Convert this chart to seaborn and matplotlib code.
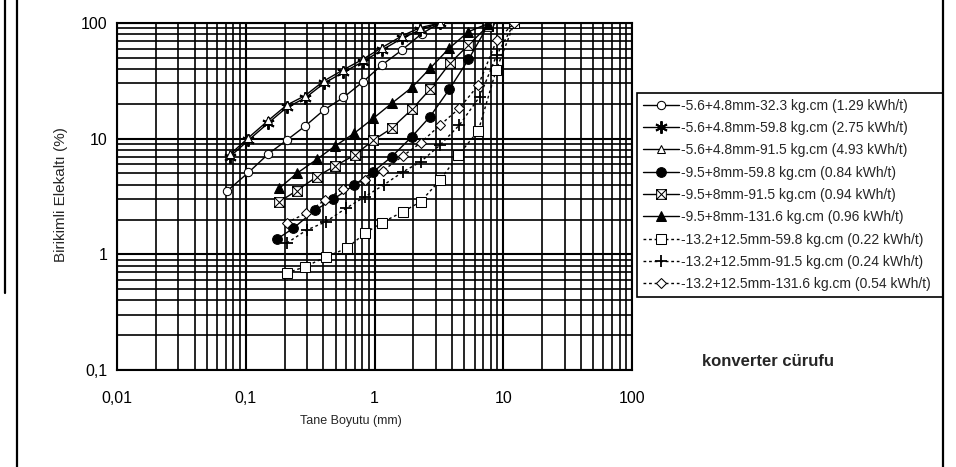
import numpy as np
import pandas as pd
import matplotlib
matplotlib.use("Agg")
import matplotlib.pyplot as plt
import seaborn as sns
from matplotlib.path import Path
from matplotlib.lines import Line2D
from matplotlib import font_manager

# ---------------- data ----------------
labels = [
    "-5.6+4.8mm-32.3 kg.cm (1.29 kWh/t)",
    "-5.6+4.8mm-59.8 kg.cm (2.75 kWh/t)",
    "-5.6+4.8mm-91.5 kg.cm (4.93 kWh/t)",
    "-9.5+8mm-59.8 kg.cm (0.84 kWh/t)",
    "-9.5+8mm-91.5 kg.cm (0.94 kWh/t)",
    "-9.5+8mm-131.6 kg.cm (0.96 kWh/t)",
    "-13.2+12.5mm-59.8 kg.cm (0.22 kWh/t)",
    "-13.2+12.5mm-91.5 kg.cm (0.24 kWh/t)",
    "-13.2+12.5mm-131.6 kg.cm (0.54 kWh/t)",
]

x1 = [0.071, 0.105, 0.15, 0.208, 0.288, 0.405, 0.573, 0.81, 1.14, 1.63, 2.33, 3.23]
y1 = [3.5, 5.1, 7.4, 9.7, 12.8, 17.7, 22.7, 30.9, 43.3, 58.3, 81, 100]

x2 = [0.0755, 0.105, 0.15, 0.208, 0.288, 0.405, 0.573, 0.81, 1.14, 1.63, 2.25, 3.23]
y2 = [7.0, 9.7, 13.7, 18.6, 22.4, 30.1, 37.5, 46.2, 58.3, 73.5, 87, 100]

x3 = [0.0755, 0.105, 0.15, 0.208, 0.288, 0.405, 0.573, 0.81, 1.14, 1.63, 2.25, 3.23]
y3 = [7.3, 10.2, 14.4, 19.5, 23.5, 31.6, 39.4, 48.5, 61.2, 77.2, 91, 100]

x4 = [0.174, 0.234, 0.345, 0.479, 0.693, 0.979, 1.36, 1.95, 2.70, 3.81, 5.37, 7.8]
y4 = [1.35, 1.68, 2.41, 2.99, 3.97, 5.18, 6.98, 10.4, 15.5, 26.7, 48.4, 100]

x5 = [0.182, 0.249, 0.356, 0.493, 0.70, 0.979, 1.36, 1.95, 2.70, 3.85, 5.36, 7.65]
y5 = [2.85, 3.55, 4.69, 5.8, 7.2, 9.7, 12.3, 17.9, 26.7, 44.8, 64.4, 95]

x6 = [0.182, 0.249, 0.356, 0.493, 0.693, 0.979, 1.36, 1.95, 2.70, 3.79, 5.36, 7.65]
y6 = [3.72, 5.01, 6.62, 8.63, 11.1, 15.0, 20.2, 27.7, 40.5, 60.3, 84, 99]

x7 = [0.208, 0.288, 0.42, 0.61, 0.843, 1.14, 1.67, 2.28, 3.23, 4.48, 6.4, 8.8, 12.2]
y7 = [0.69, 0.78, 0.95, 1.13, 1.52, 1.88, 2.34, 2.85, 4.39, 7.2, 11.7, 39, 100]

x8 = [0.208, 0.297, 0.418, 0.60, 0.843, 1.175, 1.67, 2.28, 3.23, 4.56, 6.55, 8.9, 12.2]
y8 = [1.25, 1.62, 1.91, 2.5, 3.15, 3.97, 5.18, 6.31, 8.8, 13.1, 23, 52.8, 100]

x9 = [0.208, 0.294, 0.413, 0.566, 0.843, 1.16, 1.66, 2.28, 3.23, 4.56, 6.4, 8.9, 12.2]
y9 = [1.88, 2.26, 2.95, 3.65, 4.39, 5.28, 7.08, 9.2, 13.1, 18.3, 29, 71, 100]

xticks = [0.01, 0.1, 1, 10, 100]
xticklabels = ["0,01", "0,1", "1", "10", "100"]
yticks = [0.1, 1, 10, 100]
yticklabels = ["0,1", "1", "10", "100"]

# ---------------- style ----------------
sns.set_style("white")
plt.rcParams["font.family"] = ["Liberation Sans", "DejaVu Sans"]

# square-with-cross marker
boxx = Path(
    [(-1, -1), (1, -1), (1, 1), (-1, 1), (-1, -1), (-1, -1), (1, 1), (-1, 1), (1, -1)],
    [Path.MOVETO, Path.LINETO, Path.LINETO, Path.LINETO, Path.CLOSEPOLY,
     Path.MOVETO, Path.LINETO, Path.MOVETO, Path.LINETO],
)

solid = "-"
dotted = (0, (2, 2))
series = [
    (x1, y1, dict(marker="o", markersize=6, markerfacecolor="white", linestyle=solid)),
    (x2, y2, dict(marker=(6, 2, 0), markersize=9, markerfacecolor="black", markeredgewidth=1.4, linestyle=solid)),
    (x3, y3, dict(marker="^", markersize=6, markerfacecolor="white", linestyle=solid)),
    (x4, y4, dict(marker="o", markersize=7, markerfacecolor="black", linestyle=solid)),
    (x5, y5, dict(marker=boxx, markersize=7, markerfacecolor="white", linestyle=solid)),
    (x6, y6, dict(marker="^", markersize=7, markerfacecolor="black", linestyle=solid)),
    (x7, y7, dict(marker="s", markersize=7, markerfacecolor="white", linestyle=dotted)),
    (x8, y8, dict(marker="+", markersize=9, markeredgewidth=1.3, linestyle=dotted)),
    (x9, y9, dict(marker="D", markersize=5, markerfacecolor="white", linestyle=dotted)),
]

fig = plt.figure(figsize=(9.56, 4.67), dpi=100)
ax = fig.add_axes([117 / 956, 1 - 370 / 467, 515 / 956, 347 / 467])

for (xs, ys, kw), lab in zip(series, labels):
    df = pd.DataFrame({"x": xs, "y": ys})
    sns.lineplot(data=df, x="x", y="y", ax=ax, color="black", linewidth=1.0,
                 markeredgecolor="black", label=lab, sort=False, zorder=3, **kw)

ax.set_xscale("log")
ax.set_yscale("log")
ax.set_xlim(0.01, 100)
ax.set_ylim(0.1, 100)

ax.grid(which="major", color="black", linewidth=1.5)
ax.grid(which="minor", color="black", linewidth=1.2)
ax.set_axisbelow(True)
for sp in ax.spines.values():
    sp.set_color("black")
    sp.set_linewidth(1.5)

ax.set_xticks(xticks)
ax.set_xticklabels(xticklabels)
ax.set_yticks(yticks)
ax.set_yticklabels(yticklabels)
ax.tick_params(which="minor", length=0)
ax.tick_params(axis="x", which="major", direction="out", length=4, width=1, pad=11, labelsize=11.5, colors="black")
ax.tick_params(axis="y", which="major", direction="out", length=4, width=1, pad=3, labelsize=11.5, colors="black")

ax.set_xlabel("Tane Boyutu (mm)", fontsize=9)
ax.xaxis.set_label_coords((351 - 117) / 515, (370 - 415) / 347)
ax.set_ylabel("Birikimli Elekaltı (%)", fontsize=11)
ax.yaxis.set_label_coords((68 - 117) / 515, (370 - 195) / 347)

leg = ax.legend(loc="upper left", bbox_to_anchor=(637 / 956, 1 - 293 / 467, 306 / 956, 200 / 467),
                bbox_transform=fig.transFigure, mode="expand", borderaxespad=0,
                fontsize=10, frameon=True, fancybox=False, framealpha=1,
                edgecolor="black", handlelength=2.6, handletextpad=0.2,
                labelspacing=0.6, borderpad=0.4)
leg.get_frame().set_linewidth(1.2)

fig.text(702 / 956, 1 - 366 / 467, "konverter cürufu", fontsize=12, fontweight="bold",
         ha="left", va="baseline")

# page frame lines of the scanned figure
fig.add_artist(Line2D([17 / 956, 17 / 956], [0, 1], color="black", linewidth=1.6, transform=fig.transFigure))
fig.add_artist(Line2D([943 / 956, 943 / 956], [0, 1], color="black", linewidth=1.6, transform=fig.transFigure))
fig.add_artist(Line2D([5 / 956, 5 / 956], [1 - 293 / 467, 1], color="black", linewidth=1.6, transform=fig.transFigure))

fig.savefig("out.png", dpi=100, facecolor="white")
